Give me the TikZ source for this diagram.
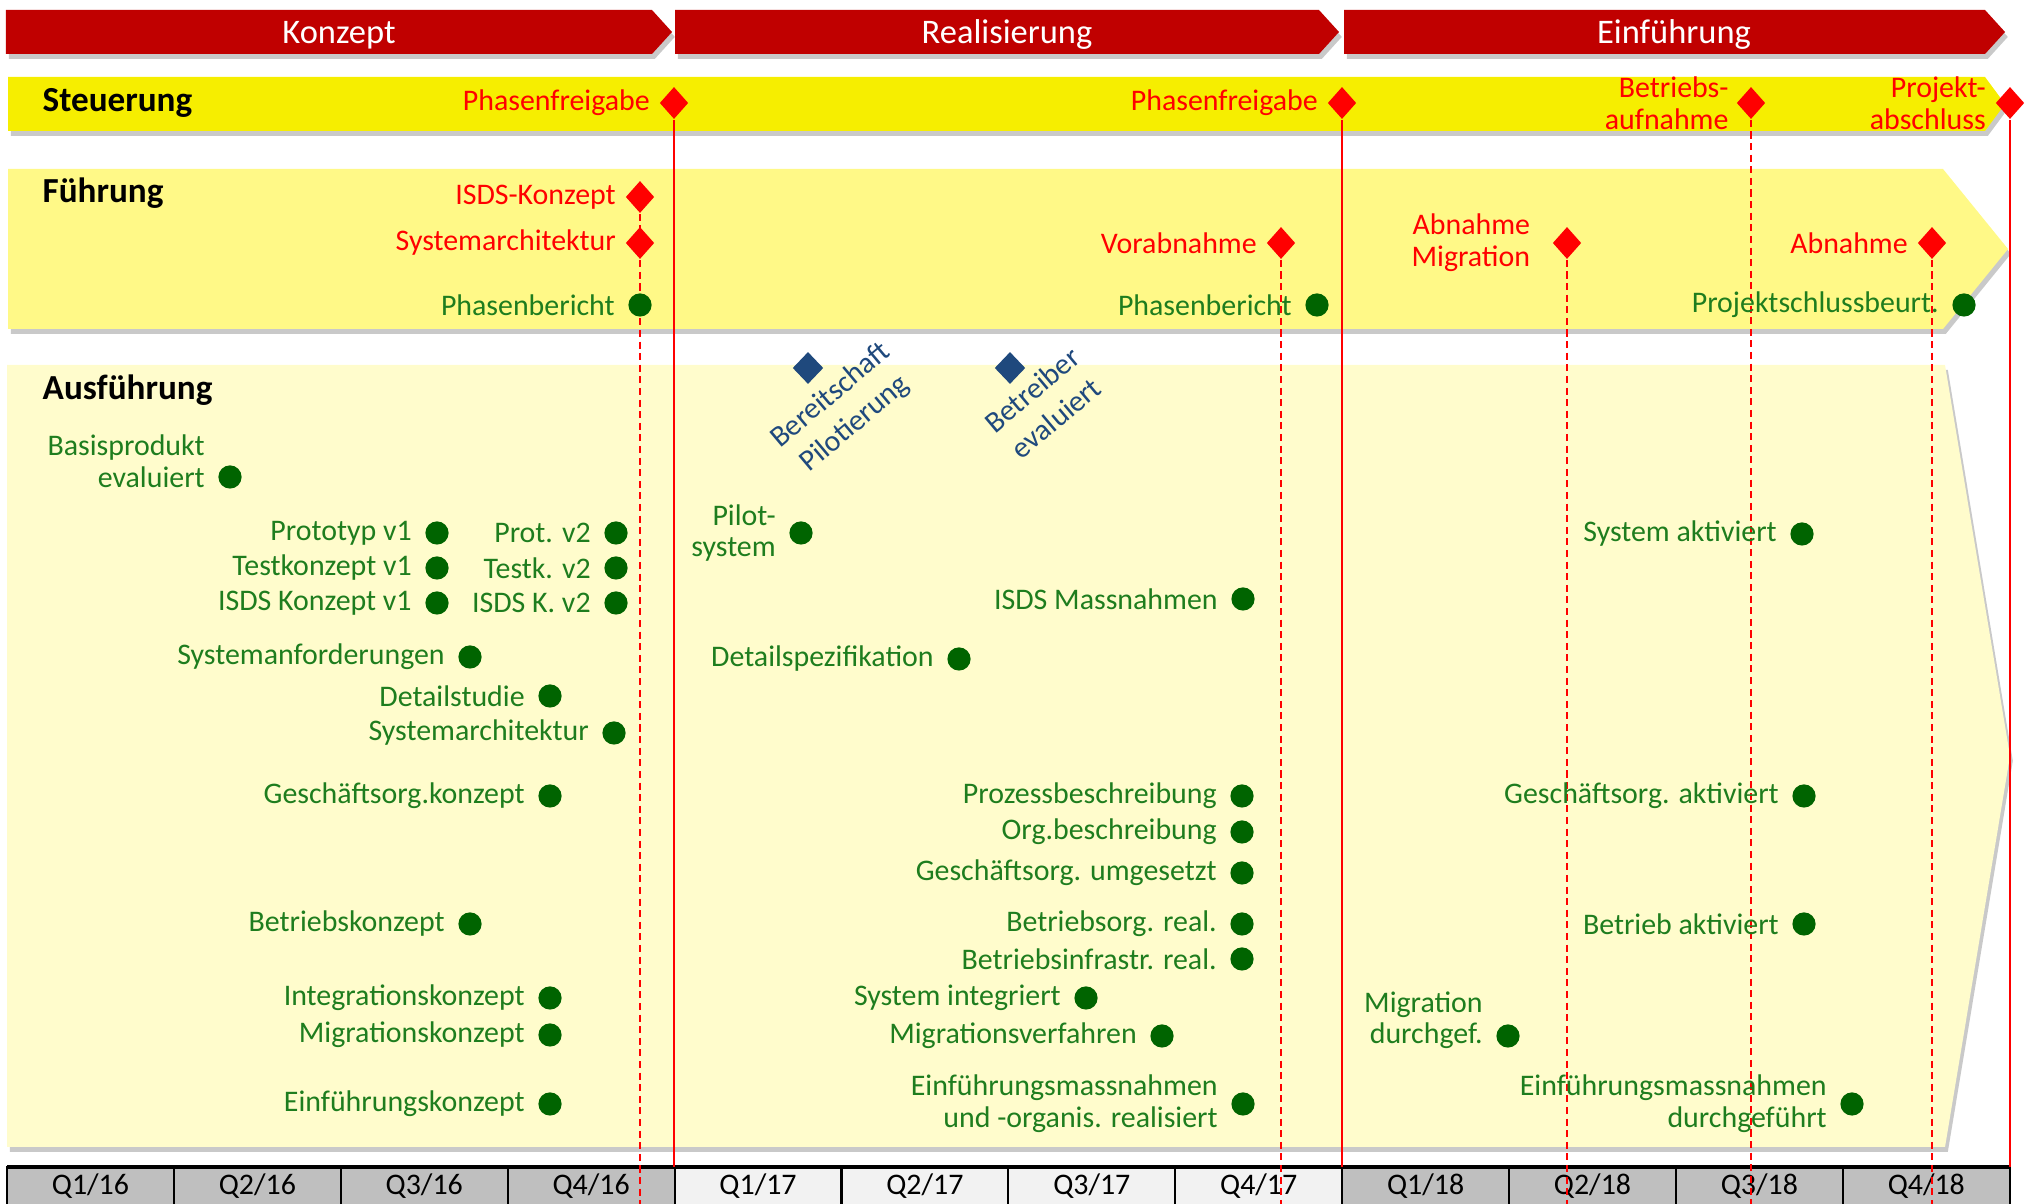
\documentclass[tikz,border=0pt]{standalone}
\usepackage{fontspec}
\setmainfont{Carlito}
\usepackage{tikz}
\usetikzlibrary{positioning,shapes.geometric,shadows}

\definecolor{phasered}{RGB}{192,0,0}
\definecolor{steuergelb}{RGB}{246,238,0}
\definecolor{fuehrgelb}{RGB}{255,249,135}
\definecolor{ausfgelb}{RGB}{255,252,204}
\definecolor{msred}{RGB}{255,0,0}
\definecolor{msgreen}{RGB}{0,100,0}
\definecolor{txtgreen}{RGB}{30,125,30}
\definecolor{msblue}{RGB}{31,73,125}
\definecolor{qdark}{RGB}{191,191,191}
\definecolor{qlight}{RGB}{242,242,242}

\pgfdeclarelayer{back}
\pgfdeclarelayer{lines}
\pgfsetlayers{back,lines,main}

\tikzset{
	band/.style={drop shadow={shadow xshift=0.8pt, shadow yshift=-1.4pt, opacity=0.3, fill=black!70}},
	reddia/.style={diamond, fill=msred, minimum width=8.2pt, minimum height=9.2pt, inner sep=0pt},
	bluedia/.style={diamond, fill=msblue, minimum width=8.8pt, minimum height=9.2pt, inner sep=0pt},
	gdot/.style={circle, fill=msgreen, minimum size=6.6pt, inner sep=0pt},
	rlbl/.style={text=msred, inner sep=0pt, align=right, font=\fontsize{8.5}{9}\selectfont},
	glbl/.style={text=txtgreen, inner sep=0pt, align=right, font=\fontsize{8.5}{9}\selectfont},
	blbl/.style={text=msblue, inner sep=0pt, align=center, rotate=40, font=\fontsize{8.5}{10.6}\selectfont},
	head/.style={anchor=west, inner sep=0pt, font=\fontsize{10}{12}\selectfont\bfseries},
	phase/.style={text=white, inner sep=0pt, font=\fontsize{9.8}{12}\selectfont},
	qcell/.style={draw=black, line width=0.6pt, outer sep=0pt, inner sep=0pt, minimum width=1.668cm, minimum height=0.38cm, font=\fontsize{8.5}{10}\selectfont},
	solidms/.style={draw=msred, line width=0.5pt},
	dashms/.style={draw=msred, line width=0.6pt, dash pattern=on 2pt off 1.3pt},
}

\begin{document}
\begin{tikzpicture}[x=0.01cm, y=-0.01cm]
			%%%%% START %%%%%
			\useasboundingbox (0,0) rectangle (2026,1204);
			
			\begin{pgfonlayer}{back}
			% phases
			\path[band, fill=phasered] (6,10) -- (652,10) -- (672,32) -- (652,54) -- (6,54) -- cycle;
			\path[band, fill=phasered] (675,10) -- (1319,10) -- (1339,32) -- (1319,54) -- (675,54) -- cycle;
			\path[band, fill=phasered] (1344,10) -- (1985,10) -- (2005,32) -- (1985,54) -- (1344,54) -- cycle;
			
			% bands
			\path[band, fill=steuergelb] (8,77) -- (1985,77) -- (2005,104) -- (1985,131) -- (8,131) -- cycle;
			\path[band, fill=fuehrgelb] (8,169) -- (1943,169) -- (2008,249) -- (1943,329) -- (8,329) -- cycle;
			\path[band, fill=ausfgelb] (7,365) -- (1945,365) -- (2010,756) -- (1945,1147) -- (7,1147) -- cycle;
			
			% quarters
			\node[qcell, fill=qdark, anchor=west] (q1) at (7,1186) {Q1/16};
			\node[qcell, fill=qdark, right=0pt of q1] (q2) {Q2/16};
			\node[qcell, fill=qdark, right=0pt of q2] (q3) {Q3/16};
			\node[qcell, fill=qdark, right=0pt of q3] (q4) {Q4/16};
			\node[qcell, fill=qlight, right=0pt of q4] (q5) {Q1/17};
			\node[qcell, fill=qlight, right=0pt of q5] (q6) {Q2/17};
			\node[qcell, fill=qlight, right=0pt of q6] (q7) {Q3/17};
			\node[qcell, fill=qlight, right=0pt of q7] (q8) {Q4/17};
			\node[qcell, fill=qdark, right=0pt of q8] (q9) {Q1/18};
			\node[qcell, fill=qdark, right=0pt of q9] (q10) {Q2/18};
			\node[qcell, fill=qdark, right=0pt of q10] (q11) {Q3/18};
			\node[qcell, fill=qdark, right=0pt of q11] (q12) {Q4/18};
			\draw[line width=1.2pt] (q1.north west) -- (q12.north east);
			\end{pgfonlayer}
			\coordinate (qtop) at (0,1167);
			\coordinate (qbot) at (0,1204);
			
			\node[phase] (phkon) at (339,35) {Konzept};
			\node[phase] (phrea) at (1007,35) {Realisierung};
			\node[phase] (phein) at (1674,35) {Einführung};
			
			\node[head] (hst) at (42,103) {Steuerung};
			\node[head] (hfu) at (42,193) {Führung};
			\node[head] (hau) at (42,390) {Ausführung};
			
			% Steuerung
			\node[reddia] (pfg1) at (674,103) {};
			\node[reddia] (pfg2) at (1342,103) {};
			\node[reddia] (bauf) at (1751,103) {};
			\node[reddia] (pabs) at (2010,103) {};
			\node[rlbl, left=2.4pt of pfg1] (lpfg1) {Phasenfreigabe};
			\node[rlbl, left=2.4pt of pfg2] (lpfg2) {Phasenfreigabe};
			\node[rlbl, left=1.9pt of bauf] (lbauf) {Betriebs-\\aufnahme};
			\node[rlbl, left=2.4pt of pabs] (lpabs) {Projekt-\\abschluss};
			
			% Fuehrung
			\node[reddia] (isdsk) at (640,197) {};
			\node[reddia] (sysa) at (640,243) {};
			\node[gdot] (pb1) at (640,305) {};
			\node[reddia] (vorab) at (1281,243) {};
			\node[gdot] (pb2) at (1317,305) {};
			\node[reddia] (abmig) at (1567,243) {};
			\node[reddia] (abn) at (1932,243) {};
			\node[gdot] (psb) at (1964,305) {};
			\node[rlbl, left=2.4pt of isdsk] (lisdsk) {ISDS-Konzept};
			\node[rlbl, left=2.4pt of sysa] (lsysa) {Systemarchitektur};
			\node[glbl, left=3.5pt of pb1] (lpb1) {Phasenbericht};
			\node[rlbl, left=2.4pt of vorab] (lvorab) {Vorabnahme};
			\node[glbl, left=3.5pt of pb2] (lpb2) {Phasenbericht};
			\node[rlbl, left=6pt of abmig] (labmig) {Abnahme\\Migration};
			\node[rlbl, left=2.4pt of abn] (labn) {Abnahme};
			\node[glbl, left=3.5pt of psb] (lpsb) {Projektschlussbeurt.};
			
			% milestone lines
			\begin{pgfonlayer}{lines}
			\draw[solidms] (pfg1) -- (pfg1 |- qtop);
			\draw[solidms] (pfg2) -- (pfg2 |- qtop);
			\draw[solidms] (pabs) -- (pabs |- qtop);
			\draw[dashms] (isdsk) -- (isdsk |- qbot);
			\draw[dashms] (vorab) -- (vorab |- qbot);
			\draw[dashms] (abmig) -- (abmig |- qbot);
			\draw[dashms] (bauf) -- (bauf |- qbot);
			\draw[dashms] (abn) -- (abn |- qbot);
			\end{pgfonlayer}
			
			% Ausfuehrung
			\node[bluedia] (bpil) at (808,368) {};
			\node[blbl] (lbpil) at (843,410) {Bereitschaft\\Pilotierung};
			\node[bluedia] (bev) at (1010,368) {};
			\node[blbl] (lbev) at (1044,404) {Betreiber\\evaluiert};
			
			\node[gdot] (bpe) at (230,477) {};
			\node[glbl, left=3.5pt of bpe, yshift=4.5pt] (lbpe) {Basisprodukt\\evaluiert};
			\node[gdot] (ptv1) at (437,533) {};
			\node[glbl, left=3.5pt of ptv1] (lptv1) {Prototyp v1};
			\node[gdot] (tkv1) at (437,568) {};
			\node[glbl, left=3.5pt of tkv1] (ltkv1) {Testkonzept v1};
			\node[gdot] (isv1) at (437,603) {};
			\node[glbl, left=3.5pt of isv1] (lisv1) {ISDS Konzept v1};
			\node[gdot] (ptv2) at (616,533) {};
			\node[glbl, left=3.5pt of ptv2] (lptv2) {Prot. v2};
			\node[gdot] (tkv2) at (616,568) {};
			\node[glbl, left=3.5pt of tkv2] (ltkv2) {Testk. v2};
			\node[gdot] (isv2) at (616,603) {};
			\node[glbl, left=3.5pt of isv2] (lisv2) {ISDS K. v2};
			\node[gdot] (sanf) at (470,657) {};
			\node[glbl, left=3.5pt of sanf] (lsanf) {Systemanforderungen};
			\node[gdot] (dstu) at (550,696) {};
			\node[glbl, left=3.5pt of dstu] (ldstu) {Detailstudie};
			\node[gdot] (sarch) at (614,733) {};
			\node[glbl, left=3.5pt of sarch] (lsarch) {Systemarchitektur};
			\node[gdot] (gokz) at (550,796) {};
			\node[glbl, left=3.5pt of gokz] (lgokz) {Geschäftsorg.konzept};
			\node[gdot] (bkz) at (470,924) {};
			\node[glbl, left=3.5pt of bkz] (lbkz) {Betriebskonzept};
			\node[gdot] (ikz) at (550,998) {};
			\node[glbl, left=3.5pt of ikz] (likz) {Integrationskonzept};
			\node[gdot] (mkz) at (550,1035) {};
			\node[glbl, left=3.5pt of mkz] (lmkz) {Migrationskonzept};
			\node[gdot] (ekz) at (550,1104) {};
			\node[glbl, left=3.5pt of ekz] (lekz) {Einführungskonzept};
			
			\node[gdot] (psys) at (801,533) {};
			\node[glbl, left=3.5pt of psys] (lpsys) {Pilot-\\system};
			\node[gdot] (isdm) at (1243,599) {};
			\node[glbl, left=3.5pt of isdm] (lisdm) {ISDS Massnahmen};
			\node[gdot] (dspz) at (959,659) {};
			\node[glbl, left=3.5pt of dspz] (ldspz) {Detailspezifikation};
			\node[gdot] (pzb) at (1242,796) {};
			\node[glbl, left=3.5pt of pzb] (lpzb) {Prozessbeschreibung};
			\node[gdot] (orgb) at (1242,832) {};
			\node[glbl, left=3.5pt of orgb] (lorgb) {Org.beschreibung};
			\node[gdot] (goum) at (1242,873) {};
			\node[glbl, left=3.5pt of goum] (lgoum) {Geschäftsorg. umgesetzt};
			\node[gdot] (bor) at (1242,924) {};
			\node[glbl, left=3.5pt of bor] (lbor) {Betriebsorg. real.};
			\node[gdot] (bir) at (1242,959) {};
			\node[glbl, left=3.5pt of bir] (lbir) {Betriebsinfrastr. real.};
			\node[gdot] (sint) at (1086,998) {};
			\node[glbl, left=3.5pt of sint] (lsint) {System integriert};
			\node[gdot] (mver) at (1162,1036) {};
			\node[glbl, left=3.5pt of mver] (lmver) {Migrationsverfahren};
			\node[gdot] (emr) at (1243,1104) {};
			\node[glbl, left=3.5pt of emr] (lemr) {Einführungsmassnahmen\\und -organis. realisiert};
			
			\node[gdot] (sakt) at (1802,534) {};
			\node[glbl, left=3.5pt of sakt] (lsakt) {System aktiviert};
			\node[gdot] (gakt) at (1804,796) {};
			\node[glbl, left=3.5pt of gakt] (lgakt) {Geschäftsorg. aktiviert};
			\node[gdot] (bakt) at (1804,924) {};
			\node[glbl, left=3.5pt of bakt] (lbakt) {Betrieb aktiviert};
			\node[gdot] (mdg) at (1508,1036) {};
			\node[glbl, left=3.5pt of mdg, yshift=4.5pt] (lmdg) {Migration\\durchgef.};
			\node[gdot] (emd) at (1852,1104) {};
			\node[glbl, left=3.5pt of emd] (lemd) {Einführungsmassnahmen\\durchgeführt};
			
			%%%%% END %%%%%
\end{tikzpicture}
\end{document}
